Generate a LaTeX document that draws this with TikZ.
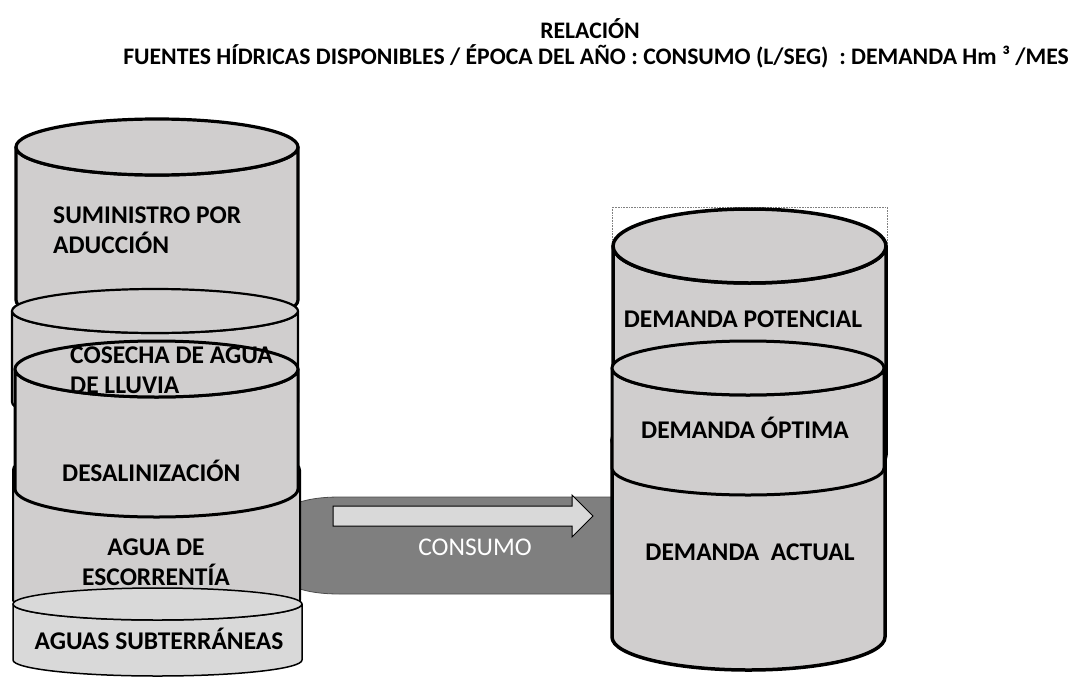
\documentclass[tikz,border=0pt]{standalone}
\usepackage{fontspec}
\setmainfont{Carlito}
\definecolor{tankgray}{RGB}{208,206,206}
\definecolor{tanklight}{RGB}{217,217,217}
\definecolor{pipegray}{RGB}{127,127,127}

\begin{document}
\begin{tikzpicture}[x=1pt,y=-1pt,
  tank/.style={fill=tankgray,draw=black,line join=round},
  lbl/.style={font=\bfseries\fontsize{25.5}{30}\selectfont,inner sep=0pt},
  ttl/.style={font=\bfseries\fontsize{23.7}{24}\selectfont,inner sep=0pt}]

\useasboundingbox (0,0) rectangle (1075,677);

% titulo
\node[ttl,anchor=base] (rel) at (590,38) {RELACIÓN};
\node[ttl,anchor=base] (fuentes) at (596,64) {FUENTES HÍDRICAS DISPONIBLES / ÉPOCA DEL AÑO : CONSUMO (L/SEG)\ \ : DEMANDA Hm ³ /MES};

% tubo de consumo
\filldraw[fill=pipegray,draw=black!70,line width=0.8pt] (612,497) -- (340,497) .. controls (318,497) and (302,500) .. (290,506) -- (290,585) .. controls (302,591) and (318,594) .. (340,594) -- (612,594) -- cycle;
\filldraw[fill=tanklight,draw=black,line width=1pt] (333,506) -- (572,506) -- (572,495) -- (593,516) -- (572,537) -- (572,526) -- (333,526) -- cycle;
\node[font=\fontsize{25.5}{30}\selectfont,text=white,inner sep=0pt,anchor=base] (consumo) at (475,555) {CONSUMO};

% marco punteado
\draw[densely dotted,gray,line width=0.6pt] (612,207) rectangle (887,432);

% fuentes (izquierda)
% escorrentia
\filldraw[tank,line width=2pt] (13,470) -- (13,600) arc[start angle=180,end angle=0,x radius=143.5,y radius=16] -- (300,470) arc[start angle=0,end angle=180,x radius=143.5,y radius=28] -- cycle;
\filldraw[tank,line width=2pt] (156.5,470) ellipse[x radius=143.5,y radius=28];
% suministro
\filldraw[tank,line width=3.2pt] (16,147) -- (16,300) arc[start angle=180,end angle=0,x radius=141,y radius=28] -- (298,147) arc[start angle=0,end angle=180,x radius=141,y radius=28] -- cycle;
\filldraw[tank,line width=3.2pt] (157,147) ellipse[x radius=141,y radius=28];
% cosecha
\filldraw[tank,line width=2.2pt] (12,311) -- (12,402) arc[start angle=180,end angle=0,x radius=143,y radius=22] -- (298,311) arc[start angle=0,end angle=180,x radius=143,y radius=22] -- cycle;
\filldraw[tank,line width=2.2pt] (155,311) ellipse[x radius=143,y radius=22];
% desalinizacion
\filldraw[tank,line width=3pt] (15,369) -- (15,489) arc[start angle=180,end angle=0,x radius=141.5,y radius=28] -- (298,369) arc[start angle=0,end angle=180,x radius=141.5,y radius=28] -- cycle;
\filldraw[tank,line width=3pt] (156.5,369) ellipse[x radius=141.5,y radius=28];
% subterraneas
\filldraw[tank,fill=tanklight,line width=1.5pt] (13,604) -- (13,660) arc[start angle=180,end angle=0,x radius=144.5,y radius=16] -- (302,604) arc[start angle=0,end angle=180,x radius=144.5,y radius=16] -- cycle;
\filldraw[tank,fill=tanklight,line width=1.5pt] (157.5,604) ellipse[x radius=144.5,y radius=16];

% demanda (derecha)
% actual
\filldraw[tank,line width=3.5pt] (612,440) -- (612,637) arc[start angle=180,end angle=0,x radius=136.5,y radius=33] -- (885,440) arc[start angle=0,end angle=180,x radius=136.5,y radius=33] -- cycle;
\filldraw[tank,line width=3.5pt] (748.5,440) ellipse[x radius=136.5,y radius=33];
% potencial
\filldraw[tank,line width=3.5pt] (613,246) -- (613,455) arc[start angle=180,end angle=0,x radius=136.5,y radius=37] -- (886,246) arc[start angle=0,end angle=180,x radius=136.5,y radius=37] -- cycle;
\filldraw[tank,line width=3.5pt] (749.5,246) ellipse[x radius=136.5,y radius=37];
% optima
\filldraw[tank,line width=3pt] (612,368) -- (612,468) arc[start angle=180,end angle=0,x radius=136,y radius=27] -- (884,368) arc[start angle=0,end angle=180,x radius=136,y radius=27] -- cycle;
\filldraw[tank,line width=3pt] (748,368) ellipse[x radius=136,y radius=27];

% textos
\node[lbl,align=left,anchor=north west] (suministro) at (53,207) {SUMINISTRO POR\\ADUCCIÓN};
\node[lbl,align=left,anchor=north west] (cosecha) at (70,347) {COSECHA DE AGUA\\DE LLUVIA};
\node[lbl,anchor=base west] (desal) at (62,481) {DESALINIZACIÓN};
\node[lbl,align=center,anchor=north] (escorrentia) at (156,539) {AGUA DE\\ESCORRENTÍA};
\node[lbl,anchor=base] (subterraneas) at (159,649) {AGUAS SUBTERRÁNEAS};
\node[lbl,anchor=base] (potencial) at (743,327) {DEMANDA POTENCIAL};
\node[lbl,anchor=base] (optima) at (745,438) {DEMANDA ÓPTIMA};
\node[lbl,anchor=base] (actual) at (750,560) {DEMANDA\ \ ACTUAL};

\end{tikzpicture}
\end{document}
